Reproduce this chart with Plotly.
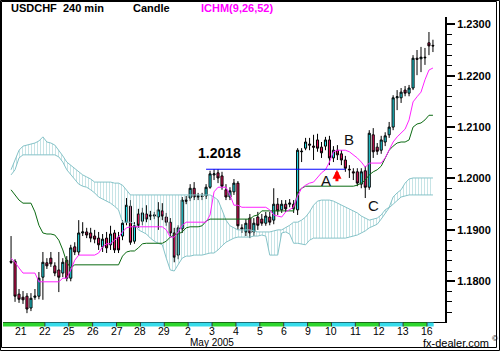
import plotly.graph_objects as go

# ---------------- data ----------------
DAY_LABELS = ["21", "22", "25", "26", "27", "28", "29", "2", "3", "4",
              "5", "6", "9", "10", "11", "12", "13", "16"]
MONTH_LABEL = "May 2005"
MONTH_DAY_INDEX = 7
FIRST_DAY_SLOTS = [3, 4, 5]      # last bars of 20 Apr shown
BARS_PER_DAY = 6
LAST_DAY_BARS = 2

OPEN = [1.1839, 1.1839, 1.1775, 1.1769, 1.1771, 1.1748, 1.1769, 1.1771, 1.1808, 1.1836,
        1.1845, 1.1830, 1.1822, 1.1816, 1.1841, 1.1806, 1.1867, 1.1857, 1.1894, 1.1896,
        1.1894, 1.1888, 1.1884, 1.1867, 1.1884, 1.1871, 1.1894, 1.1886, 1.1888, 1.1915,
        1.1946, 1.1878, 1.1931, 1.1917, 1.1931, 1.1929, 1.1927, 1.1925, 1.1937, 1.1925,
        1.1915, 1.1894, 1.1851, 1.1902, 1.1958, 1.1962, 1.1981, 1.1964, 1.1966, 1.1966,
        1.1983, 1.2007, 1.2011, 1.2005, 1.1978, 1.1964, 1.1974, 1.1991, 1.1904, 1.1896,
        1.1923, 1.1896, 1.1925, 1.1921, 1.1913, 1.1925, 1.1919, 1.1950, 1.1939, 1.1950,
        1.1950, 1.1950, 1.1939, 1.2052, 1.2059, 1.2067, 1.2063, 1.2075, 1.2061, 1.2063,
        1.2075, 1.2040, 1.2055, 1.2048, 1.2036, 1.2018, 1.2013, 1.2013, 1.1989, 1.2015,
        1.1983, 1.2085, 1.2061, 1.2055, 1.2071, 1.2085, 1.2100, 1.2157, 1.2157, 1.2172,
        1.2166, 1.2176, 1.2234, 1.2233, 1.2236, 1.2264, 1.2259]
HIGH = [1.1888, 1.1843, 1.1785, 1.1781, 1.1777, 1.1777, 1.1785, 1.1818, 1.1857, 1.1845,
        1.1857, 1.1837, 1.1857, 1.1845, 1.1849, 1.1871, 1.1876, 1.1919, 1.1915, 1.1904,
        1.1904, 1.1900, 1.1896, 1.1892, 1.1896, 1.1908, 1.1900, 1.1896, 1.1919, 1.1962,
        1.1958, 1.1915, 1.1941, 1.1943, 1.1948, 1.1937, 1.1935, 1.1954, 1.1952, 1.1933,
        1.1923, 1.1904, 1.1909, 1.1964, 1.1966, 1.1989, 1.1993, 1.1972, 1.1972, 1.1989,
        1.2015, 1.2018, 1.2018, 1.2013, 1.1989, 1.1983, 1.1999, 1.1995, 1.1911, 1.1921,
        1.1931, 1.1923, 1.1935, 1.1931, 1.1935, 1.1935, 1.1981, 1.1962, 1.1958, 1.1958,
        1.1960, 1.1958, 1.2059, 1.2059, 1.2079, 1.2079, 1.2085, 1.2087, 1.2071, 1.2081,
        1.2083, 1.2063, 1.2065, 1.2055, 1.2044, 1.2026, 1.2020, 1.2020, 1.2020, 1.2024,
        1.2094, 1.2098, 1.2069, 1.2083, 1.2090, 1.2110, 1.2162, 1.2172, 1.2176, 1.2180,
        1.2182, 1.2240, 1.2250, 1.2256, 1.2254, 1.2285, 1.2270]
LOW = [1.1834, 1.1760, 1.1758, 1.1756, 1.1738, 1.1742, 1.1764, 1.1765, 1.1764, 1.1824,
       1.1828, 1.1810, 1.1779, 1.1808, 1.1800, 1.1800, 1.1851, 1.1851, 1.1888, 1.1884,
       1.1876, 1.1874, 1.1861, 1.1857, 1.1855, 1.1861, 1.1855, 1.1855, 1.1880, 1.1909,
       1.1871, 1.1873, 1.1904, 1.1909, 1.1915, 1.1919, 1.1921, 1.1900, 1.1919, 1.1908,
       1.1888, 1.1837, 1.1843, 1.1894, 1.1950, 1.1956, 1.1958, 1.1958, 1.1958, 1.1960,
       1.1980, 1.1997, 1.1991, 1.1978, 1.1958, 1.1958, 1.1968, 1.1900, 1.1894, 1.1888,
       1.1884, 1.1888, 1.1900, 1.1908, 1.1908, 1.1909, 1.1911, 1.1929, 1.1933, 1.1935,
       1.1944, 1.1933, 1.1929, 1.2032, 1.2055, 1.2055, 1.2036, 1.2052, 1.2040, 1.2055,
       1.2026, 1.2032, 1.2036, 1.2026, 1.2013, 1.2001, 1.1997, 1.1985, 1.1981, 1.1962,
       1.1978, 1.2040, 1.2046, 1.2048, 1.2063, 1.2079, 1.2094, 1.2133, 1.2147, 1.2160,
       1.2160, 1.2172, 1.2201, 1.2207, 1.2221, 1.2240, 1.2246]
CLOSE = [1.1837, 1.1771, 1.1765, 1.1764, 1.1746, 1.1767, 1.1771, 1.1806, 1.1837, 1.1830,
         1.1834, 1.1816, 1.1808, 1.1837, 1.1806, 1.1865, 1.1857, 1.1894, 1.1896, 1.1890,
         1.1884, 1.1882, 1.1871, 1.1882, 1.1865, 1.1892, 1.1861, 1.1861, 1.1913, 1.1948,
         1.1876, 1.1908, 1.1909, 1.1933, 1.1921, 1.1927, 1.1929, 1.1939, 1.1927, 1.1915,
         1.1894, 1.1847, 1.1904, 1.1958, 1.1956, 1.1981, 1.1964, 1.1966, 1.1965, 1.1983,
         1.2009, 1.2009, 1.2001, 1.1985, 1.1964, 1.1976, 1.1991, 1.1908, 1.1902, 1.1913,
         1.1894, 1.1913, 1.1909, 1.1913, 1.1927, 1.1915, 1.1950, 1.1937, 1.1950, 1.1941,
         1.1952, 1.1941, 1.2055, 1.2053, 1.2071, 1.2065, 1.2061, 1.2059, 1.2050, 1.2075,
         1.2040, 1.2055, 1.2046, 1.2036, 1.2020, 1.2017, 1.2011, 1.1991, 1.2013, 1.1983,
         1.2088, 1.2052, 1.2053, 1.2075, 1.2083, 1.2100, 1.2157, 1.2159, 1.2168, 1.2166,
         1.2176, 1.2234, 1.2232, 1.2236, 1.2235, 1.2258, 1.2258]

TENKAN = [1.1845, 1.1837, 1.1826, 1.1816, 1.1816, 1.1816, 1.1816, 1.1799, 1.1799, 1.1799,
          1.1799, 1.1799, 1.1799, 1.1806, 1.1806, 1.1822, 1.1841, 1.1851, 1.1851, 1.1851,
          1.1851, 1.1851, 1.1855, 1.1867, 1.1873, 1.1873, 1.1880, 1.1886, 1.1896, 1.1904,
          1.1906, 1.1906, 1.1906, 1.1906, 1.1906, 1.1906, 1.1906, 1.1906, 1.1906, 1.1900,
          1.1886, 1.1886, 1.1896, 1.1909, 1.1915, 1.1915, 1.1915, 1.1915, 1.1915, 1.1915,
          1.1929, 1.1974, 1.1983, 1.1983, 1.1983, 1.1968, 1.1948, 1.1948, 1.1944, 1.1944,
          1.1944, 1.1944, 1.1943, 1.1943, 1.1944, 1.1939, 1.1929, 1.1927, 1.1925, 1.1935,
          1.1939, 1.1944, 1.1966, 1.1981, 1.1987, 1.1991, 1.1993, 1.2003, 1.2011, 1.2017,
          1.2032, 1.2052, 1.2055, 1.2055, 1.2055, 1.2052, 1.2046, 1.2040, 1.2032, 1.2022,
          1.2030, 1.2030, 1.2030, 1.2030, 1.2040, 1.2055, 1.2071, 1.2081, 1.2088, 1.2096,
          1.2114, 1.2149, 1.2159, 1.2168, 1.2192, 1.2211, 1.2215]
KIJUN = [1.1978, 1.1968, 1.1958, 1.1952, 1.1952, 1.1952, 1.1935, 1.1909, 1.1894, 1.1892,
         1.1892, 1.1890, 1.1880, 1.1861, 1.1837, 1.1826, 1.1832, 1.1832, 1.1832, 1.1832,
         1.1832, 1.1832, 1.1832, 1.1832, 1.1832, 1.1832, 1.1832, 1.1832, 1.1849, 1.1857,
         1.1859, 1.1859, 1.1865, 1.1873, 1.1874, 1.1874, 1.1874, 1.1874, 1.1874, 1.1878,
         1.1886, 1.1890, 1.1892, 1.1896, 1.1904, 1.1906, 1.1906, 1.1906, 1.1908, 1.1917,
         1.1921, 1.1921, 1.1921, 1.1921, 1.1921, 1.1921, 1.1921, 1.1921, 1.1921, 1.1921,
         1.1921, 1.1927, 1.1929, 1.1937, 1.1937, 1.1937, 1.1937, 1.1937, 1.1937, 1.1937,
         1.1937, 1.1937, 1.1974, 1.1981, 1.1985, 1.1985, 1.1985, 1.1985, 1.1985, 1.1985,
         1.1985, 1.1985, 1.1985, 1.1985, 1.1985, 1.1985, 1.1985, 1.1987, 1.1991, 1.1997,
         1.2007, 1.2013, 1.2017, 1.2024, 1.2040, 1.2055, 1.2063, 1.2069, 1.2071, 1.2071,
         1.2075, 1.2100, 1.2106, 1.2108, 1.2114, 1.2123, 1.2123]
SPAN_A = [1.2017, 1.2036, 1.2055, 1.2063, 1.2065, 1.2067, 1.2069, 1.2073, 1.2081, 1.2071,
          1.2069, 1.2065, 1.2055, 1.2044, 1.2032, 1.2026, 1.2020, 1.2013, 1.2007, 1.2003,
          1.1999, 1.1993, 1.1993, 1.1993, 1.1993, 1.1993, 1.1991, 1.1991, 1.1987, 1.1978,
          1.1968, 1.1968, 1.1968, 1.1968, 1.1968, 1.1968, 1.1968, 1.1968, 1.1968, 1.1968,
          1.1968, 1.1968, 1.1968, 1.1968, 1.1968, 1.1968, 1.1968, 1.1968, 1.1968, 1.1968,
          1.1968, 1.1964, 1.1958, 1.1939, 1.1919, 1.1908, 1.1904, 1.1900, 1.1900, 1.1900,
          1.1900, 1.1898, 1.1896, 1.1896, 1.1896, 1.1896, 1.1898, 1.1900, 1.1900, 1.1904,
          1.1909, 1.1915, 1.1915, 1.1919, 1.1925, 1.1935, 1.1948, 1.1956, 1.1958, 1.1958,
          1.1958, 1.1956, 1.1952, 1.1948, 1.1944, 1.1941, 1.1937, 1.1933, 1.1927, 1.1923,
          1.1919, 1.1921, 1.1923, 1.1929, 1.1939, 1.1944, 1.1964, 1.1972, 1.1978, 1.1991,
          1.1999, 1.2001, 1.2001, 1.2001, 1.2001, 1.2001, 1.2001]
SPAN_B = [1.2007, 1.2017, 1.2040, 1.2046, 1.2046, 1.2046, 1.2046, 1.2046, 1.2046, 1.2046,
          1.2046, 1.2046, 1.2042, 1.2032, 1.2017, 1.2007, 1.1997, 1.1989, 1.1985, 1.1983,
          1.1978, 1.1972, 1.1964, 1.1960, 1.1956, 1.1952, 1.1946, 1.1939, 1.1915, 1.1915,
          1.1915, 1.1911, 1.1900, 1.1896, 1.1892, 1.1884, 1.1878, 1.1874, 1.1871, 1.1845,
          1.1822, 1.1820, 1.1834, 1.1845, 1.1849, 1.1849, 1.1851, 1.1851, 1.1851, 1.1853,
          1.1855, 1.1855, 1.1861, 1.1869, 1.1876, 1.1880, 1.1884, 1.1886, 1.1886, 1.1886,
          1.1886, 1.1888, 1.1888, 1.1890, 1.1888, 1.1851, 1.1851, 1.1851, 1.1894, 1.1896,
          1.1892, 1.1874, 1.1874, 1.1873, 1.1871, 1.1880, 1.1884, 1.1884, 1.1884, 1.1884,
          1.1884, 1.1884, 1.1884, 1.1884, 1.1884, 1.1886, 1.1888, 1.1890, 1.1894, 1.1898,
          1.1904, 1.1908, 1.1911, 1.1921, 1.1931, 1.1943, 1.1950, 1.1958, 1.1964, 1.1966,
          1.1968, 1.1968, 1.1968, 1.1968, 1.1968, 1.1968, 1.1968]

LEVEL = 1.2018
LEVEL_FROM_BAR = 49
LEVEL_TO_BAR = 84
LEVEL_TEXT = "1.2018"
Y_TICKS = [1.18, 1.19, 1.20, 1.21, 1.22, 1.23]

# ---------------- geometry / styles ----------------
W, H = 500, 351
ML, MR, MT, MB = 3, 55, 17, 29
PW, PH = W - ML - MR, H - MT - MB
X_RANGE = [-0.754, 17.755]
Y_RANGE = [1.17208, 1.23142]
FONT = "Liberation Sans, Arial, Helvetica, sans-serif"
CYAN = "#22E2EC"
RED = "#E3125C"
CLOUD_LINE = "#86C3C8"
CLOUD_HATCH = "#8FC9CE"


def ppx(x):
    return (x - ML) / PW


def ppy(y):
    return (H - MB - y) / PH


# bar positions in "day" units
xs = [-1 + (s + 0.5) / BARS_PER_DAY for s in FIRST_DAY_SLOTS]
for d in range(len(DAY_LABELS) - 1):
    xs += [d + (s + 0.5) / BARS_PER_DAY for s in range(BARS_PER_DAY)]
xs += [len(DAY_LABELS) - 1 + (s + 0.5) / BARS_PER_DAY for s in range(LAST_DAY_BARS)]

fig = go.Figure()

# cloud
fig.add_trace(go.Scatter(x=xs, y=SPAN_B, mode="lines", line=dict(color=CLOUD_LINE, width=1),
                         hoverinfo="skip", showlegend=False))
fig.add_trace(go.Scatter(x=xs, y=SPAN_A, mode="lines", line=dict(color=CLOUD_LINE, width=1),
                         fill="tonexty", fillcolor="rgba(255,255,255,0)",
                         fillpattern=dict(shape="|", fgcolor=CLOUD_HATCH, bgcolor="rgba(255,255,255,0)",
                                          size=3, solidity=0.34),
                         hoverinfo="skip", showlegend=False))

# candles
fig.add_trace(go.Candlestick(
    x=xs, open=OPEN, high=HIGH, low=LOW, close=CLOSE,
    increasing=dict(fillcolor=CYAN, line=dict(color="black", width=1)),
    decreasing=dict(fillcolor=RED, line=dict(color="black", width=1)),
    whiskerwidth=0, hoverinfo="skip", showlegend=False))

# indicator lines
fig.add_trace(go.Scatter(x=xs, y=KIJUN, mode="lines", line=dict(color="#0B6A12", width=1),
                         hoverinfo="skip", showlegend=False))
fig.add_trace(go.Scatter(x=xs, y=TENKAN, mode="lines", line=dict(color="#FF22FF", width=1),
                         hoverinfo="skip", showlegend=False))
fig.add_trace(go.Scatter(x=[xs[LEVEL_FROM_BAR], xs[LEVEL_TO_BAR]], y=[LEVEL, LEVEL], mode="lines",
                         line=dict(color="#0000FF", width=1), hoverinfo="skip", showlegend=False))

shapes = []
# day strip under the axis
n_days = len(DAY_LABELS)
for d in range(n_days):
    x0 = X_RANGE[0] if d == 0 else d
    x1 = d + 1 if d < n_days - 1 else xs[-1] + 0.03
    shapes.append(dict(type="rect", xref="x", yref="paper", x0=x0, x1=x1,
                       y0=ppy(326.5), y1=ppy(322.5), line=dict(width=0),
                       fillcolor="#2ED62E" if d % 2 == 0 else "#36DCEA", layer="above"))
    if d > 0:
        shapes.append(dict(type="line", xref="x", yref="paper", x0=d, x1=d,
                           y0=ppy(326.5), y1=ppy(322.5), line=dict(color="#333333", width=1)))
# frame (double border)
shapes.append(dict(type="rect", xref="paper", yref="paper", x0=ppx(0.5), x1=ppx(499.5),
                   y0=ppy(350.5), y1=ppy(0.5), line=dict(color="black", width=1)))
shapes.append(dict(type="rect", xref="paper", yref="paper", x0=ppx(1.5), x1=ppx(496.5),
                   y0=ppy(347.5), y1=ppy(1.5), line=dict(color="black", width=1)))

ann = []
for d, lab in enumerate(DAY_LABELS):
    ann.append(dict(x=d, y=ppy(330.5), xref="x", yref="paper", text=lab, showarrow=False,
                    xanchor="center", yanchor="middle", font=dict(family=FONT, size=10.5, color="black")))
ann.append(dict(x=MONTH_DAY_INDEX, y=ppy(342.5), xref="x", yref="paper", text=MONTH_LABEL,
                showarrow=False, xanchor="left", yanchor="middle",
                font=dict(family=FONT, size=10, color="black")))
ann.append(dict(x=ppx(421), y=ppy(343), xref="paper", yref="paper", text="fx-dealer.com",
                showarrow=False, xanchor="left", yanchor="middle",
                font=dict(family=FONT, size=11, color="black")))
ann.append(dict(x=ppx(490), y=ppy(338.5), xref="paper", yref="paper", text="©",
                showarrow=False, xanchor="left", yanchor="middle",
                font=dict(family=FONT, size=8, color="black")))
# header
for txt, x0, col in [("USDCHF&nbsp;&nbsp;240 min", 9, "black"), ("Candle", 131, "black"),
                     ("ICHM(9,26,52)", 199, "#FF00FF")]:
    ann.append(dict(x=ppx(x0), y=ppy(8.5), xref="paper", yref="paper", text=txt, showarrow=False,
                    xanchor="left", yanchor="middle",
                    font=dict(family=FONT, size=11, color=col, weight="bold")))
# chart notes
ann.append(dict(x=8.3, y=1.2050, text=LEVEL_TEXT, showarrow=False, xanchor="center", yanchor="middle",
                font=dict(family=FONT, size=14, color="black", weight="bold")))
for txt, x, y in [("A", 12.77, 1.1997), ("B", 13.74, 1.2075), ("C", 14.74, 1.1948)]:
    ann.append(dict(x=x, y=y, text=txt, showarrow=False, xanchor="center", yanchor="middle",
                    font=dict(family=FONT, size=15, color="#111111")))
ann.append(dict(x=13.23, y=1.2017, text="", showarrow=True, arrowhead=2, arrowsize=0.6,
                arrowwidth=3, arrowcolor="#FF0000", ax=0, ay=13, standoff=0))

fig.update_layout(
    width=W, height=H, margin=dict(l=ML, r=MR, t=MT, b=MB, pad=0),
    paper_bgcolor="white", plot_bgcolor="white", showlegend=False,
    boxgap=0.25,
    xaxis=dict(range=X_RANGE, showgrid=False, zeroline=False, showticklabels=False, ticks="",
               showline=True, linecolor="black", linewidth=1, rangeslider=dict(visible=False),
               fixedrange=True),
    yaxis=dict(range=Y_RANGE, side="right", showgrid=False, zeroline=False,
               tickvals=Y_TICKS, ticktext=[f"{v:.4f}" for v in Y_TICKS],
               ticks="outside", ticklen=8, tickwidth=2, tickcolor="black",
               minor=dict(dtick=0.002, tick0=1.18, ticks="outside", ticklen=5, tickwidth=1,
                          tickcolor="black"),
               showline=True, linecolor="black", linewidth=2,
               tickfont=dict(family=FONT, size=11, color="black", weight="bold"),
               fixedrange=True),
    shapes=shapes, annotations=ann,
)

fig.write_html("out.html", config={"displayModeBar": False})
